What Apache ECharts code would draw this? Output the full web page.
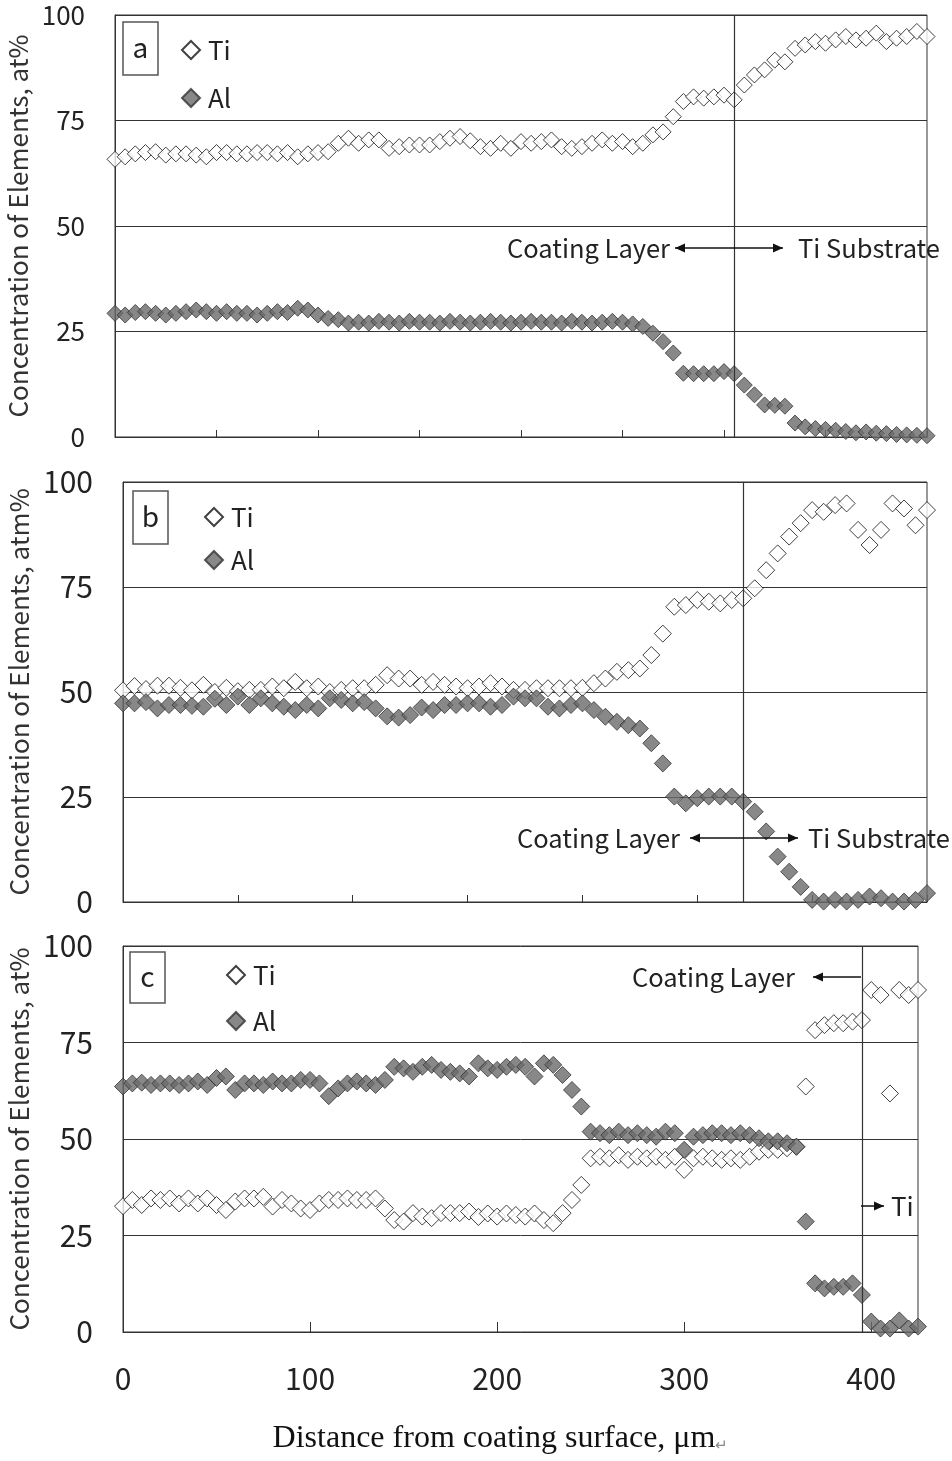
<!DOCTYPE html>
<html>
<head>
<meta charset="utf-8">
<script src="https://cdn.jsdelivr.net/npm/echarts@6.0.0/dist/echarts.min.js"></script>
<style>
html, body { margin: 0; padding: 0; background: #fff; }
#main { width: 952px; height: 1461px; }
</style>
</head>
<body>
<div id="main"></div>
<script>
// panel a - 81 points, one tick every 10 points
var aTi = [65.8, 66.4, 67.1, 67.4, 67.6, 66.8, 67.1, 67.1, 66.8, 66.4,
  67.4, 67.4, 67.1, 67.1, 67.4, 67.4, 67.1, 67.4, 66.4, 67.1,
  67.4, 67.6, 69.6, 70.8, 69.6, 70.4, 70.4, 68.4, 68.8, 69.2,
  69.2, 69.2, 70.0, 70.8, 71.2, 70.2, 68.8, 68.4, 69.6, 68.4,
  70.0, 69.6, 70.0, 70.4, 68.8, 68.4, 68.8, 69.6, 70.4, 69.6,
  70.0, 68.8, 69.6, 71.6, 72.3, 75.9, 79.5, 80.6, 80.3, 80.6,
  81.0, 79.9, 83.4, 85.8, 87.0, 89.3, 88.9, 92.1, 92.9, 93.7,
  93.3, 94.1, 94.9, 94.1, 94.5, 95.7, 93.7, 94.5, 94.9, 96.1,
  94.9];
var aAl = [29.3, 28.9, 29.5, 29.7, 29.3, 28.9, 29.3, 29.7, 30.1, 29.7,
  29.3, 29.7, 29.3, 29.3, 28.9, 29.3, 29.7, 29.5, 30.5, 30.1,
  28.9, 28.1, 27.8, 27.0, 27.2, 27.0, 27.4, 27.2, 27.0, 27.4,
  27.2, 27.2, 27.0, 27.4, 27.2, 27.0, 27.2, 27.4, 27.2, 27.0,
  27.2, 27.4, 27.2, 27.2, 27.0, 27.4, 27.2, 27.0, 27.2, 27.4,
  27.2, 26.8, 26.2, 24.6, 22.6, 19.9, 15.1, 15.0, 15.0, 15.0,
  15.5, 15.0, 12.3, 10.0, 7.6, 7.5, 7.3, 3.3, 2.4, 2.0,
  1.8, 1.6, 1.3, 1.0, 1.2, 0.9, 0.8, 0.6, 0.5, 0.4,
  0.3];
var aBorder = 61; // point index of the coating / substrate line

// panel b - 71 points
var bTi = [50.4, 51.4, 50.7, 51.5, 51.5, 51.0, 50.4, 51.7, 50.0, 51.0,
  50.2, 50.5, 50.5, 51.3, 50.9, 52.4, 50.9, 51.3, 50.0, 50.5,
  50.9, 50.9, 51.7, 54.0, 53.2, 53.2, 51.7, 52.4, 51.7, 51.3,
  50.9, 51.3, 52.1, 51.3, 50.5, 50.5, 50.9, 50.9, 50.9, 50.9,
  51.0, 52.1, 53.2, 54.8, 55.2, 55.6, 58.8, 63.9, 70.3, 70.7,
  71.9, 71.5, 71.1, 71.9, 72.3, 74.7, 79.0, 83.0, 87.0, 90.2,
  93.3, 92.9, 94.5, 94.9, 88.6, 85.0, 88.6, 94.9, 93.7, 89.7,
  93.3];
var bAl = [47.3, 47.3, 47.6, 46.1, 46.9, 46.9, 46.7, 46.5, 48.4, 46.9,
  48.9, 46.9, 48.5, 47.3, 46.5, 45.7, 46.9, 46.1, 48.5, 48.1,
  47.3, 47.6, 46.1, 44.2, 43.9, 44.5, 46.3, 45.7, 46.9, 46.9,
  47.3, 47.3, 46.5, 46.9, 48.9, 48.5, 48.5, 46.5, 46.1, 46.9,
  47.3, 45.7, 44.1, 42.9, 42.1, 41.3, 37.8, 33.0, 25.1, 23.5,
  24.7, 25.1, 25.1, 25.1, 23.9, 21.5, 16.8, 10.8, 7.2, 3.6,
  0.5, 0.1, 0.5, 0.1, 0.5, 1.3, 0.9, 0.1, 0.1, 0.5,
  2.1];
var bBorder = 54;

// panel c - distance from surface, um
var cDepth = [0, 5, 10, 15, 20, 25, 30, 35, 40, 45,
  50, 55, 60, 65, 70, 75, 80, 85, 90, 95,
  100, 105, 110, 115, 120, 125, 130, 135, 140, 145,
  150, 155, 160, 165, 170, 175, 180, 185, 190, 195,
  200, 205, 210, 215, 220, 225, 230, 235, 240, 245,
  250, 255, 260, 265, 270, 275, 280, 285, 290, 295,
  300, 305, 310, 315, 320, 325, 330, 335, 340, 345,
  350, 355, 360, 365, 370, 375, 380, 385, 390, 395,
  400, 405, 410, 415, 420, 425];
var cTi = [32.6, 34.2, 32.9, 34.6, 34.2, 34.6, 33.3, 34.6, 33.3, 34.6,
  32.9, 31.6, 33.8, 34.6, 34.6, 35.0, 32.5, 34.2, 33.3, 32.0,
  31.6, 33.3, 34.2, 34.2, 34.6, 34.2, 34.2, 34.6, 32.0, 29.0,
  28.6, 30.8, 29.9, 29.5, 30.8, 30.8, 30.8, 31.2, 29.8, 30.7,
  29.9, 30.7, 30.3, 29.9, 30.7, 29.0, 28.2, 30.8, 34.2, 38.1,
  45.0, 45.4, 45.0, 45.8, 44.6, 45.4, 45.0, 45.4, 44.6, 45.4,
  42.0, 45.0, 45.4, 45.0, 44.6, 45.0, 44.6, 45.4, 46.7, 47.2,
  47.2, 47.6, 48.0, 63.6, 78.2, 79.5, 80.0, 80.0, 80.4, 80.8,
  88.6, 87.3, 61.8, 88.6, 87.3, 88.6];
var cAl = [63.6, 64.4, 64.6, 64.0, 64.4, 64.4, 64.0, 64.4, 64.9, 64.0,
  65.8, 66.2, 62.7, 64.4, 64.4, 64.0, 64.9, 64.4, 64.4, 65.3,
  65.3, 64.4, 61.1, 63.1, 64.4, 64.9, 64.4, 64.0, 65.3, 68.7,
  68.3, 67.4, 68.7, 69.2, 67.9, 67.4, 67.0, 66.2, 69.6, 68.3,
  67.9, 68.7, 69.2, 68.7, 66.2, 69.6, 69.2, 66.6, 62.7, 58.4,
  51.9, 51.5, 51.0, 51.9, 51.0, 51.5, 51.0, 50.6, 51.9, 51.5,
  47.2, 50.6, 51.0, 51.5, 51.5, 51.0, 51.5, 51.0, 50.2, 49.4,
  49.4, 48.9, 48.0, 28.6, 12.6, 11.3, 11.7, 11.7, 12.6, 9.6,
  2.7, 0.9, 0.9, 3.0, 0.9, 1.4];
var cBorder = 395;

var yMax = 100, yStep = 25;

var sans = '"Noto Sans CJK KR", "Noto Sans", sans-serif';
var ink = '#222';
var chart = echarts.init(document.getElementById('main'));

function idx(arr) { return arr.map(function (v, i) { return i; }); }

function xCat(grid, data, tickEvery, tickLen) {
  return {
    gridIndex: grid, type: 'category', data: data, boundaryGap: false,
    axisLine: { lineStyle: { color: '#333', width: 1 } },
    axisTick: { inside: true, interval: tickEvery - 1, length: tickLen, lineStyle: { color: '#333' } },
    axisLabel: { show: false },
    splitLine: { show: false }
  };
}

function yVal(grid, name, size, gap) {
  return {
    gridIndex: grid, type: 'value', min: 0, max: yMax, interval: yStep,
    axisLine: { show: true, lineStyle: { color: '#333' } },
    axisTick: { show: false },
    axisLabel: { fontSize: size, fontFamily: sans, color: ink, margin: 30 },
    splitLine: { lineStyle: { color: '#333', width: 1 } },
    name: name, nameLocation: 'middle', nameGap: gap, nameRotate: 90,
    nameTextStyle: { fontSize: 26, fontFamily: sans, color: '#333' }
  };
}

function ti(ax, data, size) {
  return {
    name: 'Ti', type: 'scatter', xAxisIndex: ax, yAxisIndex: ax, data: data,
    symbol: 'diamond', symbolSize: size,
    itemStyle: { color: '#fff', borderColor: '#111', borderWidth: 1 }
  };
}

function al(ax, data, size, borderAt) {
  return {
    name: 'Al', type: 'scatter', xAxisIndex: ax, yAxisIndex: ax, data: data,
    symbol: 'diamond', symbolSize: size,
    itemStyle: { color: '#6a6a6a', borderColor: '#333', borderWidth: 1 },
    markLine: {
      silent: true, symbol: 'none', label: { show: false },
      lineStyle: { color: '#333', type: 'solid', width: 1.2 },
      data: [{ xAxis: borderAt }]
    }
  };
}

function legendAt(left, top, gap) {
  return {
    left: left, top: top, orient: 'vertical', selectedMode: false,
    data: ['Ti', 'Al'], itemWidth: 18, itemHeight: 18, itemGap: gap,
    textStyle: { fontSize: 26, fontFamily: sans, color: ink, padding: [0, 0, 0, 3] }
  };
}

// annotation helpers
function txt(x, y, s, align, size) {
  return { type: 'text', x: x, y: y, z: 50,
    style: { text: s, fontSize: size || 25.5, fontFamily: sans, fill: ink, align: align, verticalAlign: 'middle' } };
}
function seg(x1, x2, y) {
  return { type: 'line', z: 50, shape: { x1: x1, y1: y, x2: x2, y2: y }, style: { stroke: '#111', lineWidth: 1.5 } };
}
function head(x, y, dir) {
  return { type: 'polygon', z: 50, shape: { points: [[x, y], [x - dir * 10, y - 4.5], [x - dir * 10, y + 4.5]] }, style: { fill: '#111' } };
}
function tag(x, y, w, h, s) {
  return [
    { type: 'rect', z: 50, shape: { x: x, y: y, width: w, height: h }, style: { fill: '#fff', stroke: '#555', lineWidth: 1.5 } },
    txt(x + w / 2, y + h / 2 - 1, s, 'center', 28)
  ];
}

var graphics = [].concat(
  tag(123, 22, 35, 53, 'a'),
  tag(133, 491, 35, 53, 'b'),
  tag(130, 952, 35, 51, 'c'),
  [
    txt(670, 248, 'Coating Layer', 'right'), seg(675, 783, 248), head(675, 248, -1), head(783, 248, 1),
    txt(798, 248, 'Ti Substrate', 'left'),
    txt(680, 838, 'Coating Layer', 'right'), seg(690, 798, 838), head(690, 838, -1), head(798, 838, 1),
    txt(808, 838, 'Ti Substrate', 'left'),
    txt(795, 977, 'Coating Layer', 'right'), seg(813, 861, 977), head(813, 977, -1),
    seg(861, 884, 1206), head(884, 1206, 1), txt(891, 1206, 'Ti', 'left', 26)
  ]
);

var xA = xCat(0, idx(aTi), 10, 7);
var xB = xCat(1, idx(bTi), 10, 7);
var xC = xCat(2, cDepth, 20, 10);
xC.axisLabel = { show: true, interval: 19, fontSize: 30, fontFamily: sans, color: ink, margin: 32 };
xC.name = '{t|Distance from coating surface, \u03bcm}{r|\u21b5}';
xC.nameLocation = 'middle';
xC.nameGap = 91;
xC.nameTextStyle = {
  rich: {
    t: { fontSize: 32, fontFamily: '"Liberation Serif", serif', color: '#111' },
    r: { fontSize: 15, fontFamily: sans, color: '#888', padding: [10, 40, 0, 0] }
  }
};

var option = {
  backgroundColor: '#fff',
  animation: false,
  grid: [
    { left: 115, top: 15, width: 812, height: 422, show: true, borderColor: '#333', borderWidth: 1, outerBoundsMode: 'none' },
    { left: 123, top: 482, width: 804, height: 420, show: true, borderColor: '#333', borderWidth: 1, outerBoundsMode: 'none' },
    { left: 123, top: 946, width: 795, height: 386, show: true, borderColor: '#333', borderWidth: 1, outerBoundsMode: 'none' }
  ],
  legend: [legendAt(176, 32, 22), legendAt(199, 499, 17), legendAt(221, 957, 20)],
  xAxis: [xA, xB, xC],
  yAxis: [
    yVal(0, 'Concentration of Elements, at%', 26, 82),
    yVal(1, 'Concentration of Elements, atm%', 30, 90),
    yVal(2, 'Concentration of Elements, at%', 30, 90)
  ],
  series: [
    ti(0, aTi, 16), al(0, aAl, 16, aBorder),
    ti(1, bTi, 17), al(1, bAl, 17, bBorder),
    ti(2, cTi, 17), al(2, cAl, 17, cDepth.indexOf(cBorder))
  ],
  graphic: graphics
};

chart.setOption(option);
</script>
</body>
</html>
